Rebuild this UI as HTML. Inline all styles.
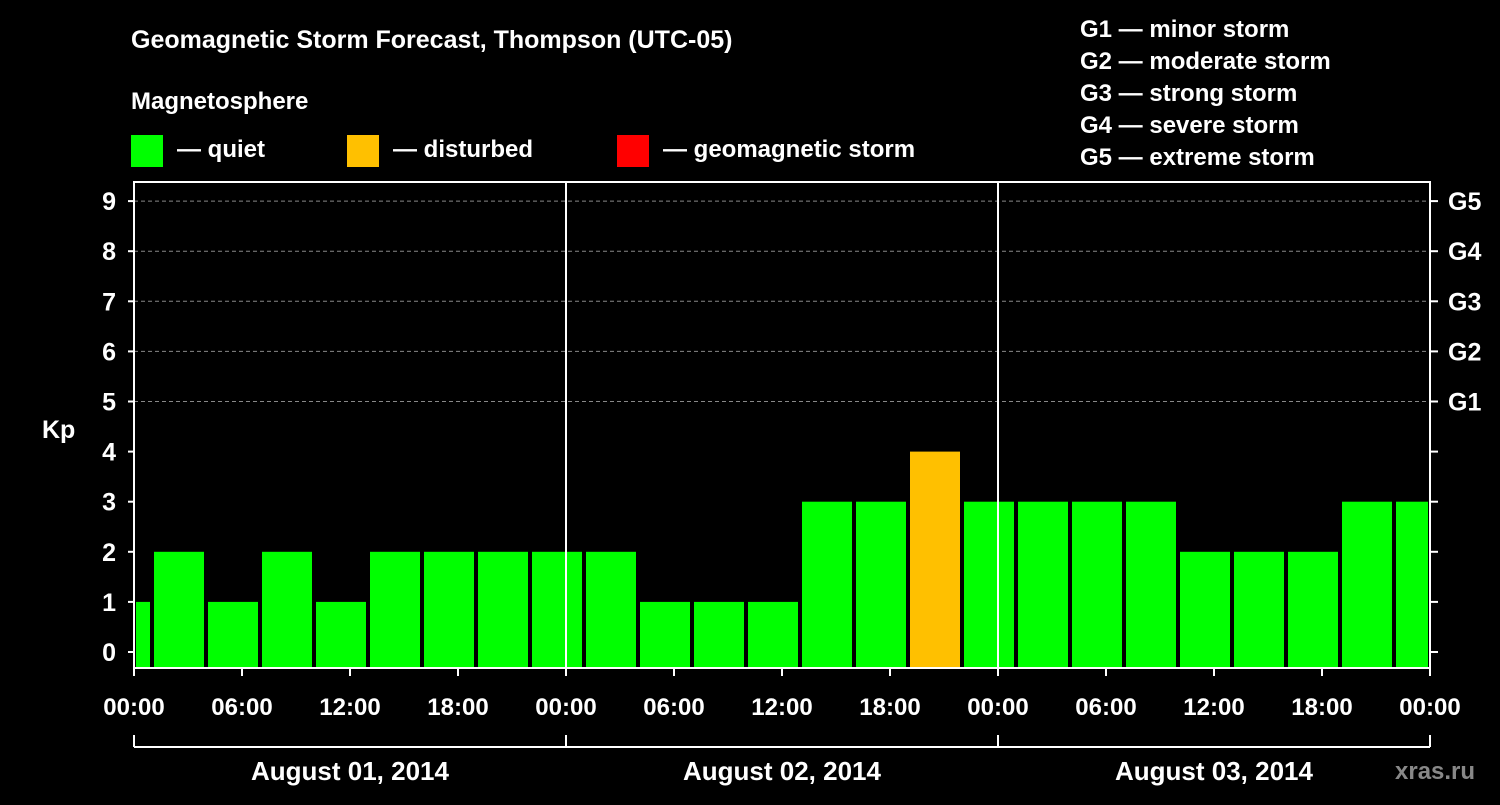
<!DOCTYPE html>
<html><head><meta charset="utf-8"><style>
body{margin:0;background:#000;width:1500px;height:800px;overflow:hidden}
svg text{font-family:"Liberation Sans",sans-serif;font-weight:bold;fill:#fff}
</style></head><body>
<svg id="c" width="1500" height="800">
<text x="131" y="48" font-size="25">Geomagnetic Storm Forecast, Thompson (UTC-05)</text>
<text x="131" y="109" font-size="24">Magnetosphere</text>
<g><rect x="131" y="135" width="32" height="32" fill="#00ff00"/><text x="177" y="157" font-size="24">— quiet</text></g>
<g><rect x="347" y="135" width="32" height="32" fill="#ffc000"/><text x="393" y="157" font-size="24">— disturbed</text></g>
<g><rect x="617" y="135" width="32" height="32" fill="#ff0000"/><text x="663" y="157" font-size="24">— geomagnetic storm</text></g>
<g font-size="24">
<text x="1080" y="37">G1 — minor storm</text><text x="1080" y="69">G2 — moderate storm</text><text x="1080" y="101">G3 — strong storm</text><text x="1080" y="133">G4 — severe storm</text><text x="1080" y="165">G5 — extreme storm</text></g>
<text x="42" y="438" font-size="25">Kp</text>
<text x="1395" y="779" font-size="24" style="fill:#888">xras.ru</text>
<g id="g"></g>
</svg>
<script>
const kpValues=[1,2,1,2,1,2,2,2,2,2,1,1,1,3,3,4,3,3,3,3,2,2,2,3,3];
const xTickLabels=["00:00","06:00","12:00","18:00","00:00","06:00","12:00","18:00","00:00","06:00","12:00","18:00","00:00"];
const dayLabels=["August 01, 2014","August 02, 2014","August 03, 2014"];
const gLabels=["G1","G2","G3","G4","G5"];
const startHour=-2; // first bar local start hour (UTC-05 offset)
const L=134,R=1430,T=182,B=668,totalH=72;
const X=h=>L+(h/totalH)*(R-L);
const Y=v=>652-v*50.1;
const ns="http://www.w3.org/2000/svg",g=document.getElementById('g');
function mk(t,a,txt){const e=document.createElementNS(ns,t);for(const k in a)e.setAttribute(k,a[k]);if(txt!=null)e.textContent=txt;g.appendChild(e);return e;}
for(let v=5;v<=9;v++){const e=mk('line',{x1:L,x2:R,y1:Y(v),y2:Y(v),stroke:'#888','stroke-dasharray':'4,3'});

}
kpValues.forEach((v,i)=>{let h0=startHour+i*3,h1=h0+3;let x0=Math.max(X(h0)+2,L+2),x1=Math.min(X(h1)-2,R-2);
const col=v>=5?'#ff0000':v>=4?'#ffc000':'#00ff00';
const r=mk('rect',{x:x0,y:Y(v),width:x1-x0,height:B-Y(v),fill:col});

});
[1,2].forEach(d=>{const e=mk('line',{x1:X(d*24),x2:X(d*24),y1:T,y2:B,stroke:'#fff','stroke-width':2});

});
const fr=mk('rect',{x:L,y:T,width:R-L,height:B-T,fill:'none',stroke:'#fff','stroke-width':2});


for(let v=0;v<=9;v++){mk('line',{x1:L-6,x2:L,y1:Y(v),y2:Y(v),stroke:'#fff','stroke-width':2});mk('line',{x1:R,x2:R+8,y1:Y(v),y2:Y(v),stroke:'#fff','stroke-width':2});
const t=mk('text',{x:116,y:Y(v)+9,'font-size':25,'text-anchor':'end'},String(v));

}
gLabels.forEach((s,i)=>{const t=mk('text',{x:1448,y:Y(5+i)+9,'font-size':25},s);

});
xTickLabels.forEach((s,i)=>{mk('line',{x1:X(i*6),x2:X(i*6),y1:B,y2:B+8,stroke:'#fff','stroke-width':2});
const t=mk('text',{x:X(i*6),y:715,'font-size':24,'text-anchor':'middle'},s);

});
mk('line',{x1:L,x2:R,y1:747,y2:747,stroke:'#fff','stroke-width':2});
for(let d=0;d<=3;d++)mk('line',{x1:X(d*24),x2:X(d*24),y1:735,y2:747,stroke:'#fff','stroke-width':2});
dayLabels.forEach((s,i)=>{const t=mk('text',{x:X(i*24+12),y:780,'font-size':26,'text-anchor':'middle'},s);

});
</script>
</body></html>
